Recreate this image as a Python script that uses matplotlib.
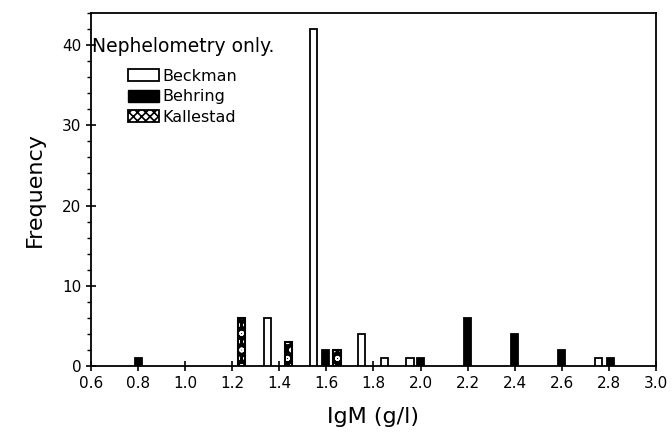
import matplotlib.pyplot as plt
from matplotlib.patches import Patch
from matplotlib.ticker import MultipleLocator

# bar centres (IgM, g/l) and counts
beckman_x = [1.35, 1.545, 1.75, 1.845, 1.955, 2.755]
beckman_n = [6, 42, 4, 1, 1, 1]
behring_x = [0.8, 1.595, 2.0, 2.2, 2.4, 2.6, 2.805]
behring_n = [1, 2, 1, 6, 4, 2, 1]
kallestad_x = [1.24, 1.44, 1.645]
kallestad_n = [6, 3, 2]

xticks = [0.6, 0.8, 1.0, 1.2, 1.4, 1.6, 1.8, 2.0, 2.2, 2.4, 2.6, 2.8, 3.0]
yticks = [0, 10, 20, 30, 40]

plt.rcParams["font.family"] = "DejaVu Sans"
plt.rcParams["hatch.linewidth"] = 1.2

fig = plt.figure(figsize=(6.72, 4.43), dpi=100)
ax = fig.add_axes([0.1354, 0.1738, 0.8408, 0.797])

w = 0.03
ax.bar(beckman_x, beckman_n, width=w, facecolor="white", edgecolor="black", linewidth=1.3, zorder=3)
ax.bar(behring_x, behring_n, width=w, facecolor="black", edgecolor="black", linewidth=1.3, zorder=3)
ax.bar(kallestad_x, kallestad_n, width=w, facecolor="black", edgecolor="white", hatch="oo", linewidth=0, zorder=3)
ax.bar(kallestad_x, kallestad_n, width=w, facecolor="none", edgecolor="black", linewidth=1.5, zorder=4)

ax.set_xlim(0.6, 3.0)
ax.set_ylim(0, 44)
ax.set_xticks(xticks)
ax.set_xticklabels([f"{t:.1f}" for t in xticks])
ax.set_yticks(yticks)
ax.yaxis.set_minor_locator(MultipleLocator(2))
ax.tick_params(axis="both", which="major", direction="inout", length=7, width=1.2, labelsize=11)
ax.tick_params(axis="y", which="minor", direction="out", length=3, width=1)
for s in ax.spines.values():
    s.set_linewidth(1.3)

ax.set_xlabel("IgM (g/l)", fontsize=16, labelpad=12)
ax.set_ylabel("Frequency", fontsize=16, labelpad=12)

ax.text(0.605, 39.8, "Nephelometry only.", fontsize=13.5, va="center", ha="left")

handles = [
    Patch(facecolor="white", edgecolor="black", linewidth=1.3, label="Beckman"),
    Patch(facecolor="black", edgecolor="black", label="Behring"),
    Patch(facecolor="white", edgecolor="black", hatch="xxxx", linewidth=1.3, label="Kallestad"),
]
ax.legend(handles=handles, loc="upper left", bbox_to_anchor=(0.055, 0.86), frameon=False,
          fontsize=11.5, handlelength=1.9, handleheight=0.8, handletextpad=0.2, labelspacing=0.35,
          borderaxespad=0)

fig.savefig("out.png", dpi=100)
